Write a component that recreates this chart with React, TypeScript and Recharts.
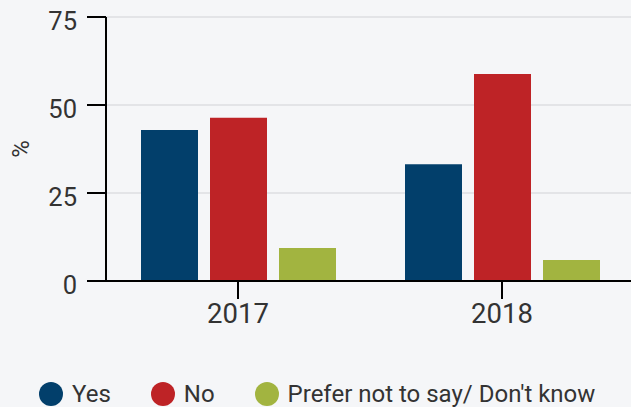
import { BarChart, Bar, XAxis, YAxis, CartesianGrid } from "recharts";

const years = ["2017", "2018"];
const yes = [42.9, 33.2];
const no = [46.4, 58.8];
const preferNot = [9.4, 6.0];
const yTicks = [0, 25, 50, 75];

const series = [
  { key: "yes", name: "Yes", color: "#023f6b" },
  { key: "no", name: "No", color: "#be2326" },
  { key: "preferNot", name: "Prefer not to say/ Don't know", color: "#a2b440" },
];

const data = years.map((year, i) => ({
  year,
  yes: yes[i],
  no: no[i],
  preferNot: preferNot[i],
}));

const FONT = "Roboto, sans-serif";
const TEXT = "#333";

function YTick({ x, y, payload }: any) {
  return (
    <text x={x} y={y + 4} dy="0.36em" textAnchor="end" fontSize={25.5} fill={TEXT} fontFamily={FONT}>
      {payload.value}
    </text>
  );
}

function XTick({ x, y, payload }: any) {
  return (
    <text x={x} y={y} dy="0.71em" textAnchor="middle" fontSize={27.5} fill={TEXT} fontFamily={FONT}>
      {payload.value}
    </text>
  );
}

// rotated "%" centred on the plot height
function PercentLabel({ viewBox }: any) {
  const cx = 21;
  const cy = viewBox.y + viewBox.height / 2;
  return (
    <text
      x={cx}
      y={cy}
      transform={`rotate(-90, ${cx}, ${cy})`}
      textAnchor="middle"
      dominantBaseline="central"
      fontSize={24}
      fill={TEXT}
      fontFamily={FONT}
    >
      %
    </text>
  );
}

export default function App() {
  return (
    <div
      style={{
        position: "fixed",
        left: 0,
        top: 0,
        width: 631,
        height: 407,
        overflow: "hidden",
        background: "#f5f6f8",
        fontFamily: FONT,
      }}
    >
      <BarChart
        width={634}
        height={407}
        data={data}
        margin={{ top: 17, right: 0, bottom: 66, left: 0 }}
        barSize={57}
        barGap={12}
      >
        <CartesianGrid vertical={false} stroke="#e3e4e7" strokeWidth={2} />
        <XAxis
          dataKey="year"
          height={60}
          stroke="#000"
          strokeWidth={2}
          tickSize={18}
          tickMargin={4}
          tick={<XTick />}
        />
        <YAxis
          width={106}
          domain={[0, 75]}
          ticks={yTicks}
          stroke="#000"
          strokeWidth={2}
          tickSize={19}
          tickMargin={10}
          tick={<YTick />}
          label={<PercentLabel />}
        />
        {series.map((s) => (
          <Bar key={s.key} dataKey={s.key} name={s.name} fill={s.color} isAnimationActive={false} />
        ))}
      </BarChart>
      <div
        style={{
          position: "absolute",
          left: 39,
          top: 382,
          display: "flex",
          alignItems: "center",
          fontSize: 24,
          color: TEXT,
          lineHeight: "24px",
          whiteSpace: "nowrap",
        }}
      >
        {series.map((s) => (
          <div key={s.key} style={{ display: "flex", alignItems: "center", marginRight: 40 }}>
            <span
              style={{
                display: "inline-block",
                width: 24,
                height: 24,
                borderRadius: "50%",
                background: s.color,
                marginRight: 9,
              }}
            />
            <span>{s.name}</span>
          </div>
        ))}
      </div>
    </div>
  );
}
